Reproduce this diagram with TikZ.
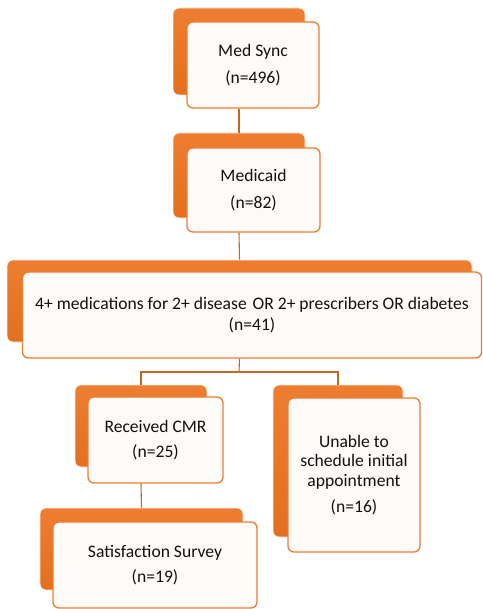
\documentclass[tikz,border=0pt]{standalone}
\usepackage{fontspec}
\setmainfont{Carlito}
\definecolor{orng}{HTML}{ED7D31}
\definecolor{orngd}{HTML}{E2701F}
\definecolor{lnc}{HTML}{C8651E}
\definecolor{txt}{HTML}{111111}
\begin{document}
\begin{tikzpicture}[x=1pt,y=-1pt,
  back/.style={draw=white!85!orng, line width=0.8pt, rounded corners=6pt, top color=orng, bottom color=orngd, inner sep=0pt},
  front/.style={draw=orng, line width=1.3pt, rounded corners=6pt, fill=white!96!orng, inner sep=2pt, align=center, text=txt, font=\fontsize{17.6}{19.5}\selectfont},
  conn/.style={draw=lnc, line width=1.1pt}]
\useasboundingbox (0,0) rectangle (482,609);
% Med Sync
\node[back, minimum width=132pt, minimum height=87pt] (b1) at (239,51.5) {};
\node[front, minimum width=132pt, minimum height=86pt] (f1) at (253,65) {Med Sync\\[7pt](n=496)};
% Medicaid
\node[back, minimum width=132pt, minimum height=85pt] (b2) at (239,175.5) {};
\node[front, minimum width=133pt, minimum height=84pt] (f2) at (253.5,190) {Medicaid\\[7pt](n=82)};
% Criteria
\node[back, minimum width=465pt, minimum height=82pt] (b3) at (239.5,301) {};
\node[front, minimum width=459pt, minimum height=86pt] (f3) at (252,315) {4+ medications for 2+ disease\,\,OR 2+ prescribers OR diabetes\\[2pt](n=41)};
% Received CMR
\node[back, minimum width=132pt, minimum height=82pt] (b4) at (141,426) {};
\node[front, minimum width=135pt, minimum height=86pt] (f4) at (155.5,440) {Received CMR\\[6pt](n=25)};
% Satisfaction Survey
\node[back, minimum width=203pt, minimum height=82pt] (b5) at (141.5,549) {};
\node[front, minimum width=204pt, minimum height=86pt] (f5) at (155,565) {Satisfaction Survey\\[6pt](n=19)};
% Unable
\node[back, minimum width=130pt, minimum height=152pt] (b6) at (338,461) {};
\node[front, minimum width=132pt, minimum height=154pt] (f6) at (354,475) {Unable to\\schedule initial\\appointment\\[7pt](n=16)};
% connectors
\coordinate (split) at (239,372);
\draw[conn] (f1.south -| b1.center) -- (b2.north);
\draw[conn] (f2.south -| b2.center) -- (b3.north);
\draw[conn] (f3.south -| b3.center) -- (split);
\draw[conn] (b4.north) |- (split) -| (b6.north);
\draw[conn] (f4.south -| b4.center) -- (b5.north);
\end{tikzpicture}
\end{document}
